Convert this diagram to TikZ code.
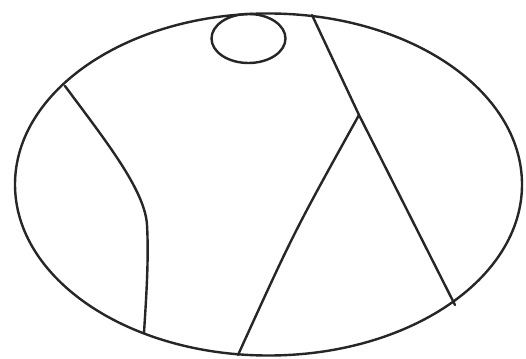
\documentclass[tikz,border=0pt]{standalone}
\begin{document}
\begin{tikzpicture}[x=1pt,y=-1pt,line width=2.4pt,
  stroke/.style={draw=black!85,line cap=round,line join=round}]
\useasboundingbox (0,0) rectangle (526,358);
\fill[white] (0,0) rectangle (526,358);
\draw[stroke] (268.5,184.5) ellipse [x radius=253.5, y radius=171];
\draw[stroke] (248.5,38.5) ellipse [x radius=37, y radius=24.5];
\coordinate (l0) at (65,86);
\coordinate (l1) at (144,333);
\draw[stroke] (l0) .. controls (105,140) and (145,190) .. (147,225) .. controls (149,260) and (146,300) .. (l1);
\coordinate (a0) at (312,15);
\coordinate (j) at (359,115);
\coordinate (a1) at (455,305);
\coordinate (b1) at (238,355);
\draw[stroke] (a0) -- (j) -- (a1);
\draw[stroke] (j) .. controls (294,232) .. (b1);
\end{tikzpicture}
\end{document}
